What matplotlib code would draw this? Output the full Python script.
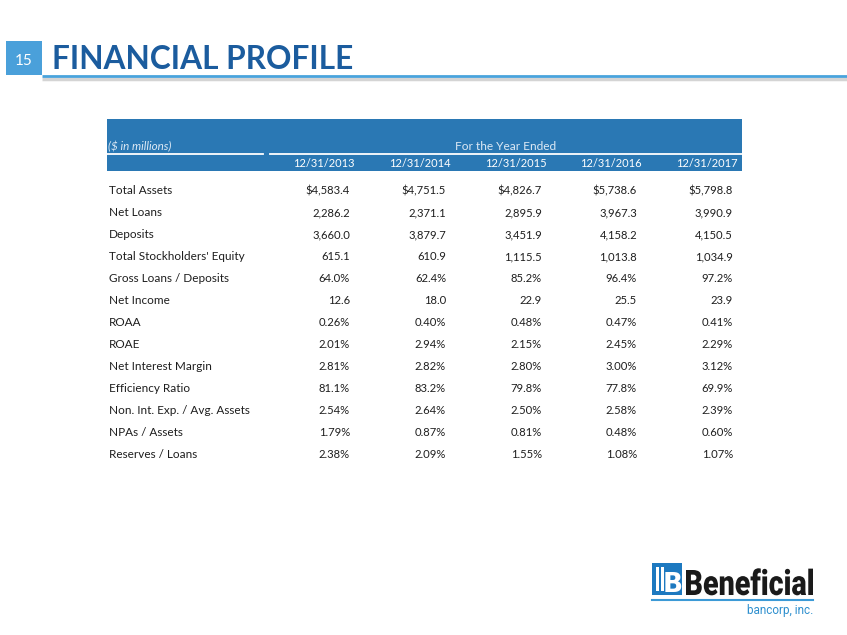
import matplotlib.pyplot as plt
from matplotlib.patches import Rectangle, PathPatch
from matplotlib.textpath import TextPath
from matplotlib.font_manager import FontProperties
from matplotlib.transforms import Affine2D

# data
dates = ['12/31/2013', '12/31/2014', '12/31/2015', '12/31/2016', '12/31/2017']
row_labels = ['Total Assets', 'Net Loans', 'Deposits', "Total Stockholders' Equity",
              'Gross Loans / Deposits', 'Net Income', 'ROAA', 'ROAE',
              'Net Interest Margin', 'Efficiency Ratio', 'Non. Int. Exp. / Avg. Assets',
              'NPAs / Assets', 'Reserves / Loans']
total_assets = [4583.4, 4751.5, 4826.7, 5738.6, 5798.8]
net_loans = [2286.2, 2371.1, 2895.9, 3967.3, 3990.9]
deposits = [3660.0, 3879.7, 3451.9, 4158.2, 4150.5]
equity = [615.1, 610.9, 1115.5, 1013.8, 1034.9]
loans_deposits = [64.0, 62.4, 85.2, 96.4, 97.2]
net_income = [12.6, 18.0, 22.9, 25.5, 23.9]
roaa = [0.26, 0.40, 0.48, 0.47, 0.41]
roae = [2.01, 2.94, 2.15, 2.45, 2.29]
nim = [2.81, 2.82, 2.80, 3.00, 3.12]
efficiency = [81.1, 83.2, 79.8, 77.8, 69.9]
nonint_exp = [2.54, 2.64, 2.50, 2.58, 2.39]
npas = [1.79, 0.87, 0.81, 0.48, 0.60]
reserves = [2.38, 2.09, 1.55, 1.08, 1.07]

rows = [total_assets, net_loans, deposits, equity, loans_deposits, net_income,
        roaa, roae, nim, efficiency, nonint_exp, npas, reserves]
fmts = ['${:,.1f}', '{:,.1f}', '{:,.1f}', '{:,.1f}', '{:.1f}%', '{:.1f}',
        '{:.2f}%', '{:.2f}%', '{:.2f}%', '{:.1f}%', '{:.2f}%', '{:.2f}%', '{:.2f}%']

FONT = 'Lato'
fig = plt.figure(figsize=(8.47, 6.35), dpi=100)
ax = fig.add_axes([0, 0, 1, 1])
ax.set_xlim(0, 847)
ax.set_ylim(635, 0)
ax.axis('off')

# slide header
ax.add_patch(Rectangle((6, 41), 36, 34, color='#4aa0da', lw=0))
ax.text(24, 65, '15', color='white', fontsize=11, family=FONT, ha='center', va='baseline')
ax.text(52, 69, 'FINANCIAL PROFILE', color='#1b5c9e', fontsize=22.8, fontweight='bold',
        family=FONT, va='baseline')
ax.plot([42, 847], [78.5, 78.5], color='#b8b8b8', lw=2.5, alpha=0.6, solid_capstyle='butt')
ax.plot([42, 847], [75.5, 75.5], color='#49a3dc', lw=2.0, solid_capstyle='butt')

# table header band
ax.add_patch(Rectangle((107, 119), 635, 52, color='#2a78b4', lw=0))
ax.plot([107, 263], [153.5, 153.5], color='white', lw=1.3)
ax.plot([270, 742], [153.5, 153.5], color='white', lw=1.3)
ax.text(108, 150, '($ in millions)', color='#dce9f5', fontsize=8.4, style='italic',
        family=FONT, va='baseline')
ax.text(506, 150, 'For the Year Ended', color='#dce9f5', fontsize=8.6, family=FONT,
        ha='center', va='baseline')

col_right = [350, 446, 542, 637, 733]
for x, d in zip(col_right, dates):
    ax.text(x + 5, 167, d, color='white', fontsize=8, family=FONT, ha='right', va='baseline')

for i, (lab, vals, f) in enumerate(zip(row_labels, rows, fmts)):
    y = 194 + i * 22.0
    ax.text(109, y, lab, color='#1e1e1e', fontsize=8.5, family=FONT, va='baseline')
    for x, v in zip(col_right, vals):
        ax.text(x, y, f.format(v), color='#1e1e1e', fontsize=8.1, family=FONT,
                ha='right', va='baseline')

# logo
ax.add_patch(Rectangle((652, 563), 30, 32, color='#1d79c0', lw=0))
for xb in (656, 661):
    ax.add_patch(Rectangle((xb, 567), 2.5, 24, color='white', lw=0))
ax.text(673, 591.5, 'B', color='white', fontsize=19, fontweight='bold', family='DejaVu Sans',
        ha='center', va='baseline')
# condensed wordmark: squeeze a bold text path into the logo box
tp = TextPath((0, 0), 'Beneficial', size=1, prop=FontProperties(family='Roboto', weight='black'))
ext = tp.get_extents()
sx = 127 / ext.width
sy = 25 / 0.711
tr = Affine2D().translate(-ext.x0, 0).scale(sx, -sy).translate(686, 595) + ax.transData
ax.add_patch(PathPatch(tp, transform=tr, color='#1a1a1a', lw=0))
ax.plot([652, 813], [599.5, 599.5], color='#3c9ad6', lw=1.5)
ax.text(813, 614, 'bancorp, inc.', color='#2d8fce', fontsize=8.5, family='Roboto',
        ha='right', va='baseline')

plt.savefig('out.png', dpi=100)
